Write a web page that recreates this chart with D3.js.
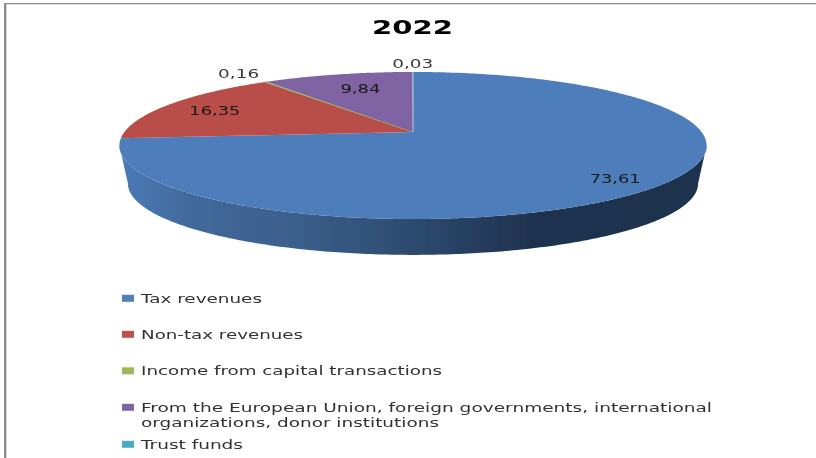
<!DOCTYPE html>
<html><head><meta charset="utf-8">
<script src="https://cdn.jsdelivr.net/npm/d3@7/dist/d3.min.js"></script>
<style>html,body{margin:0;padding:0;background:#fff}svg{display:block}text{font-family:"DejaVu Sans",sans-serif}</style>
</head><body><svg id="c" width="816" height="458"></svg>
<script>
const title = "2022";
const categories = ["Tax revenues","Non-tax revenues","Income from capital transactions","From the European Union, foreign governments, international organizations, donor institutions","Trust funds"];
const legendLines = [["Tax revenues"],["Non-tax revenues"],["Income from capital transactions"],["From the European Union, foreign governments, international","organizations, donor institutions"],["Trust funds"]];
const values = [73.61,16.35,0.16,9.84,0.03];
const valueLabels = ["73,61","16,35","0,16","9,84","0,03"];
const colors = ["#4d7ebb","#b94e4a","#9BBB59","#8064A2","#4BACC6"];
const legendColors = ["#4F81BD","#C0504D","#9BBB59","#8064A2","#4BACC6"];

const W=816,H=458;
const svg=d3.select("#c");
const defs=svg.append("defs");
defs.append("filter").attr("id","soft").append("feGaussianBlur").attr("stdDeviation",0.4);
defs.append("filter").attr("id","softPie").attr("filterUnits","userSpaceOnUse")
  .attr("x",0).attr("y",0).attr("width",W).attr("height",H)
  .append("feGaussianBlur").attr("stdDeviation",0.5);

// frame
svg.append("line").attr("x1",4).attr("x2",W).attr("y1",3.7).attr("y2",3.7).attr("stroke","#8c8c8c").attr("stroke-width",1.2);
svg.append("line").attr("x1",5.2).attr("x2",5.2).attr("y1",3).attr("y2",H).attr("stroke","#8c8c8c").attr("stroke-width",2.4);

// perspective disk projection
const cx=413, R=288.6, k=0.1837, A=-46.8, B=132;
const project=(a,r=1)=>{const u=r*Math.sin(a),v=r*Math.cos(a),d=1+k*v;return [cx+R*u/d,(A*v+B)/d];};
const shrink=0.971, depth=38, yc=145.5;
const lower=a=>{const [x,y]=project(a);return [cx+(x-cx)*shrink,yc+(y-yc)*shrink+depth];};

const arcs=d3.pie().sort(null)(values);
const line=d3.line().curve(d3.curveLinear);
const sweep=(a0,a1,f)=>{const n=Math.max(2,Math.ceil((a1-a0)*80));return d3.range(n+1).map(i=>f(a0+(a1-a0)*i/n));};
const pie=svg.append("g").attr("filter","url(#softPie)");

// side wall
const grad=defs.append("linearGradient").attr("id","side").attr("gradientUnits","userSpaceOnUse")
  .attr("x1",120).attr("x2",707).attr("y1",0).attr("y2",0);
[[0,"#4a7bb6"],[0.12,"#42699b"],[0.3,"#3b5f8c"],[0.5,"#2d4a6f"],[0.7,"#1f334f"],[1,"#1e324e"]]
  .forEach(([o,c])=>grad.append("stop").attr("offset",o).attr("stop-color",c));
const a0=Math.PI/2+Math.asin(k), a1=Math.PI*1.5-Math.asin(k);
const wall=[...sweep(a0,a1,project),...sweep(a0,a1,lower).reverse()];
pie.append("path").attr("d",line(wall)+"Z").attr("fill","url(#side)");

// top face
pie.append("g").selectAll("path").data(arcs).join("path")
  .attr("d",d=>line([project(0,0),...sweep(d.startAngle,d.endAngle,project)])+"Z")
  .attr("fill",(d,i)=>colors[i])
  .attr("stroke",(d,i)=>i===2?colors[2]:"none").attr("stroke-width",0.8);
// pale edge between the purple slice and the blue slice
pie.append("path").attr("d",line([project(0,0),project(0)])).attr("stroke","#b9c4dc").attr("stroke-width",1).attr("fill","none");

// value labels
const labelRadius=[0.85,0.8,1.22,0.75,1.2];
const labelNudge=[0,0,0,6,0];
const labelSpan=[51,51,41,40,41];
svg.append("g").selectAll("text").data(arcs).join("text")
  .attr("x",(d,i)=>project((d.startAngle+d.endAngle)/2,labelRadius[i])[0]+labelNudge[i])
  .attr("y",(d,i)=>project((d.startAngle+d.endAngle)/2,labelRadius[i])[1]+5.5)
  .attr("text-anchor","middle").attr("font-size",12.5)
  .attr("textLength",(d,i)=>labelSpan[i]).attr("lengthAdjust","spacingAndGlyphs")
  .attr("fill",(d,i)=>(i===2||i===4)?"#3a3a3a":"#1a1a1a").attr("filter","url(#soft)")
  .text((d,i)=>valueLabels[i]);

// title
svg.append("text").attr("x",412.5).attr("y",34).attr("text-anchor","middle")
  .attr("font-size",20).attr("font-weight","bold").attr("fill","#000")
  .attr("textLength",81).attr("lengthAdjust","spacingAndGlyphs").attr("filter","url(#soft)").text(title);

// legend
const legendY=[298,334,370.5,407,444];
const lineWidths=[[121],[162],[301],[571,298],[102]];
const leg=svg.append("g").selectAll("g").data(categories).join("g");
leg.append("rect").attr("x",122).attr("y",(d,i)=>legendY[i]-3.2).attr("width",12).attr("height",7).attr("fill",(d,i)=>legendColors[i]);
leg.each(function(d,i){
  d3.select(this).selectAll("text").data(legendLines[i]).join("text")
    .attr("x",141).attr("y",(t,j)=>legendY[i]+j*15+4.5).attr("font-size",12).attr("fill","#333")
    .attr("textLength",(t,j)=>lineWidths[i][j]).attr("lengthAdjust","spacingAndGlyphs").attr("filter","url(#soft)").text(t=>t);
});
</script></body></html>
